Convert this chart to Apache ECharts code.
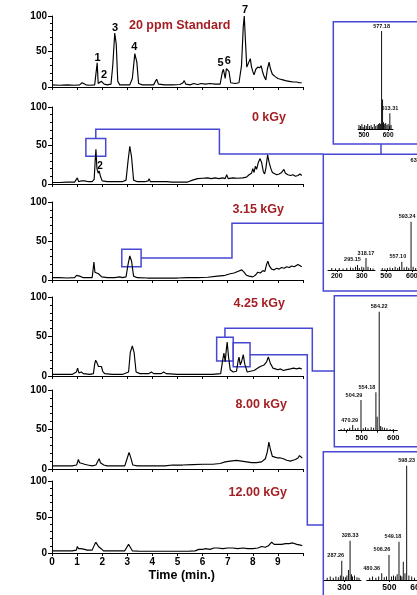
<!DOCTYPE html>
<html><head><meta charset="utf-8">
<script src="https://cdn.jsdelivr.net/npm/echarts@6/dist/echarts.min.js"></script>
<style>html,body{margin:0;padding:0;background:#fff}#c{width:417px;height:595px}</style>
</head><body><div id="c"></div>
<script>
// ---------- chromatogram data: [time (min), relative intensity] ----------
const std = [[0,3],[0.3,2.5],[0.6,3],[0.9,2.5],[1.1,3],[1.2,6],[1.27,7],[1.35,3],[1.5,2.5],[1.7,3],[1.76,4],[1.8,34],[1.84,5],[1.9,4],[1.97,8],[2.02,9],[2.08,4],[2.2,3],[2.35,4],[2.42,30],[2.5,76],[2.56,60],[2.62,8],[2.7,3],[2.9,3],[3.1,3],[3.2,12],[3.3,47],[3.38,35],[3.45,5],[3.6,3],[3.8,3],[4.05,3],[4.12,8],[4.17,11],[4.24,4],[4.5,3],[4.8,3],[5.1,3.5],[5.22,6],[5.27,9],[5.33,4],[5.5,3],[5.65,5],[5.72,5],[5.8,3.5],[5.95,5],[6.1,4],[6.3,5],[6.5,4],[6.7,4],[6.78,20],[6.83,25],[6.9,12],[6.95,26],[7.0,28],[7.05,22],[7.12,6],[7.3,5],[7.45,6],[7.55,30],[7.62,85],[7.66,100],[7.7,70],[7.76,28],[7.82,30],[7.9,40],[7.95,28],[8.0,22],[8.05,17],[8.12,25],[8.2,28],[8.28,27],[8.33,30],[8.4,20],[8.45,15],[8.52,10],[8.58,25],[8.65,35],[8.7,26],[8.78,18],[8.88,15],[9.0,12],[9.1,11],[9.2,10],[9.3,9],[9.45,8],[9.6,7],[9.75,7],[9.85,6],[9.95,6]];
const kGy0 = [[0,2],[0.3,2],[0.6,2.5],[0.9,2.5],[0.97,5],[1.01,8],[1.06,3],[1.15,4],[1.3,4],[1.45,3],[1.6,3],[1.68,6],[1.72,30],[1.75,45],[1.79,20],[1.84,14],[1.88,17],[1.93,10],[2.0,4],[2.2,3],[2.5,3],[2.8,3],[2.95,5],[3.03,30],[3.1,49],[3.17,35],[3.25,5],[3.4,3],[3.7,3],[3.83,4],[3.87,7],[3.92,3],[4.2,3],[4.45,3],[4.5,4.5],[4.55,3],[4.8,2.5],[5.1,2.5],[5.4,2.5],[5.6,5],[5.8,7],[6.0,7.5],[6.2,8],[6.35,7],[6.5,8],[6.65,7],[6.8,8],[6.9,7],[6.96,12],[7.02,7],[7.2,8],[7.4,7.5],[7.6,8],[7.75,9],[7.85,12],[7.95,14],[8.0,20],[8.05,15],[8.1,23],[8.15,19],[8.22,28],[8.29,33],[8.35,28],[8.42,16],[8.47,13],[8.52,20],[8.59,38],[8.65,28],[8.72,20],[8.78,15],[8.85,13],[8.95,12],[9.05,13],[9.15,15],[9.24,19],[9.3,14],[9.4,12],[9.5,11],[9.6,12],[9.7,10],[9.8,11],[9.88,13],[9.95,11]];
const kGy315 = [[0,3],[0.3,3],[0.6,2.5],[0.9,3],[0.98,6],[1.03,7],[1.1,5],[1.17,6.5],[1.25,3],[1.45,3],[1.6,3],[1.64,14],[1.67,23],[1.71,10],[1.78,10],[1.85,8],[1.92,8],[1.98,4],[2.2,3],[2.5,3],[2.7,4],[2.8,3],[2.95,4],[3.03,20],[3.1,31],[3.17,24],[3.25,5],[3.4,3],[3.8,2.5],[4.2,2.5],[4.6,2.5],[5.0,2.5],[5.4,3],[5.8,3],[6.2,3.5],[6.6,5],[6.9,6],[7.1,8],[7.25,9],[7.4,11],[7.56,13],[7.65,10],[7.75,6],[7.85,5],[8.0,4],[8.1,6],[8.2,10],[8.3,9],[8.4,12],[8.48,11],[8.55,20],[8.6,24],[8.66,18],[8.75,14],[8.85,13],[8.95,15],[9.05,14],[9.15,16],[9.25,15],[9.35,17],[9.45,16],[9.55,18],[9.65,17],[9.72,19],[9.8,20],[9.87,18],[9.95,17]];
const kGy425 = [[0,2],[0.4,2],[0.8,2],[0.97,5],[1.02,10],[1.07,4],[1.17,5],[1.25,3],[1.5,2],[1.65,3],[1.7,15],[1.74,20],[1.8,16],[1.85,12],[1.9,10],[1.97,12],[2.02,6],[2.1,3],[2.4,2],[2.8,2],[3.05,5],[3.12,30],[3.2,38],[3.27,30],[3.35,5],[3.5,3],[3.85,3],[3.96,5],[4.05,3],[4.35,3],[4.45,5],[4.55,3],[5.0,2],[5.5,2],[6.0,2],[6.4,2],[6.72,3],[6.8,20],[6.85,29],[6.9,18],[6.95,35],[6.98,43],[7.03,25],[7.1,8],[7.22,5],[7.35,6],[7.42,20],[7.45,24],[7.5,14],[7.55,18],[7.62,27],[7.68,15],[7.78,5],[7.9,6],[8.05,7],[8.2,10],[8.3,12],[8.45,14],[8.55,18],[8.62,24],[8.7,16],[8.8,10],[8.9,9],[9.0,8],[9.1,9],[9.22,7],[9.35,8],[9.5,9],[9.62,10],[9.75,9],[9.85,10],[9.95,9]];
const kGy800 = [[0,4],[0.4,4],[0.8,4],[0.98,5],[1.05,12],[1.1,8],[1.2,7],[1.3,6],[1.35,8],[1.42,5],[1.6,4],[1.75,5],[1.83,10],[1.88,13],[1.93,8],[2.0,9],[2.06,5],[2.2,4],[2.6,4],[2.9,4],[2.98,12],[3.07,21],[3.14,14],[3.22,5],[3.4,4],[4.0,4],[4.5,4],[4.8,5],[5.2,5],[5.6,5.5],[6.0,6],[6.4,6],[6.7,7],[6.9,9],[7.1,10],[7.35,11],[7.55,10],[7.75,9],[7.95,8],[8.15,8],[8.35,9],[8.5,13],[8.58,22],[8.64,34],[8.7,25],[8.78,16],[8.88,15],[9.0,14],[9.1,14],[9.22,13],[9.35,11],[9.5,10],[9.6,11],[9.7,12],[9.8,14],[9.86,17],[9.92,15],[9.97,14]];
const kGy1200 = [[0,3],[0.4,3],[0.8,3],[0.97,4],[1.01,9],[1.06,6],[1.15,6],[1.3,5],[1.4,4],[1.6,4],[1.7,12],[1.75,15],[1.8,12],[1.85,9],[1.9,11],[1.96,6],[2.05,3],[2.5,3],[2.9,3],[2.98,8],[3.05,12],[3.12,8],[3.2,3],[3.5,2.5],[4.0,2.5],[4.5,2.5],[5.0,2.5],[5.4,2.5],[5.7,3],[5.85,5],[6.0,5],[6.1,6],[6.3,5],[6.45,7],[6.6,7],[6.8,6],[7.0,7],[7.2,7],[7.4,6],[7.6,7],[7.8,6],[8.0,6],[8.2,7],[8.35,9],[8.5,8],[8.62,10],[8.75,15],[8.85,12],[9.0,12],[9.15,12],[9.3,13],[9.45,13],[9.6,14],[9.75,12],[9.9,11],[9.97,10]];

const panelTitles = ['20 ppm Standard','0 kGy','3.15 kGy','4.25 kGy','8.00 kGy','12.00 kGy'];
const timeTicks = ['0','1','2','3','4','5','6','7','8','9'];
const yTicks = [0,50,100];

// peak numbers: [label, time, intensity]
const stdPeaks = [['1',1.82,40.4],['2',2.07,16.9],['3',2.51,82.7],['4',3.28,55.9],['5',6.72,33.4],['6',7.0,37],['7',7.69,100]];
const kGy0Peaks = [['2',1.91,22.5]];

// ---------- mass spectra insets: m/z, intensity, label ----------
const ms1Mz = [573,577,607], ms1Int = [100,30,16], ms1Lab = ['577.18','','613.31'];
const ms1NoiseMz = [480,486,492,497,503,510,516,523,530,536,543,549,555,560,565,569,581,586,590,595,600,606,612];
const ms1NoiseInt = [4,3,5,2,4,3,5,3,4,2,5,3,4,5,6,5,7,5,6,4,5,3,4];
const ms2aMz = [283,317], ms2aInt = [4.8,11.4], ms2aLab = ['295.15','318.17'];
const ms2aNoiseMz = [180,195,210,225,240,255,265,275,290,300,308,325,335,345];
const ms2aNoiseInt = [2,1.5,2,1.5,2,2.5,2,3,2,3,2.5,3,2,1.5];
const ms2bMz = [561,597,628], ms2bInt = [7.9,46,100], ms2bLab = ['557.10','593.24','632.25'];
const ms2bNoiseMz = [485,495,505,515,525,535,545,552,570,580,588,605,615];
const ms2bNoiseInt = [2,1.5,2,2.5,2,3,2,3,2.5,3,2,3,2];
const ms3Mz = [471.5,497.8,545,549,555.4], ms3Int = [4.8,25.8,32.3,11.8,100], ms3Lab = ['470.29','504.29','554.18','','584.22'];
const ms3NoiseMz = [435,445,455,462,480,488,505,512,520,530,538,560,565,572,580,590,600];
const ms3NoiseInt = [1.5,2,1.5,2.5,2,2.5,2,3,2,3,2.5,4,3,2.5,2,1.5,1.5];
const ms4aMz = [287,328,320,335], ms4aInt = [16.9,34.4,8.7,5], ms4aLab = ['287.26','328.33','',''];
const ms4aNoiseMz = [215,230,245,258,270,280,295,305,312,340,350,362,372];
const ms4aNoiseInt = [2,3,2,3,2.5,4,3,2.5,4,3,4,2.5,2];
const ms4bMz = [472.9,498.9,534.6,550,562], ms4bInt = [5.9,21.9,33.5,16,100], ms4bLab = ['480.36','506.26','549.18','','598.23'];
const ms4bNoiseMz = [430,440,452,462,482,490,508,515,522,528,540,545,556,570,580,590];
const ms4bNoiseInt = [2,3,2,3,2.5,3,3,4,3,5,4,3,6,4,3,2];

// ---------- layout ----------
const FONT = '"Liberation Sans", Arial, sans-serif';
const BLUE = '#4747d4';
const RED = '#a31f24';
const panelTop = [16,107,202,297,390,481];
const panelH = [71,77,78,79,79,72];
const titlePos = [[179.7,25.7,'center'],[286,117.7,'right'],[284,210,'right'],[285,303.3,'right'],[287,405,'right'],[287,492.3,'right']];
const chromData = [std,kGy0,kGy315,kGy425,kGy800,kGy1200];

const insets = [
  {g:{left:358,top:31,width:35,height:98}, min:476,max:620, ticks:[500,600], fs:6.5, mz:ms1Mz,it:ms1Int,lab:ms1Lab,off:[0,0,0], nmz:ms1NoiseMz,nit:ms1NoiseInt},
  {g:{left:328,top:165,width:47,height:105}, min:165,max:353, ticks:[200,300], fs:7, mz:ms2aMz,it:ms2aInt,lab:ms2aLab,off:[-5,0], nmz:ms2aNoiseMz,nit:ms2aNoiseInt},
  {g:{left:381,top:165,width:60,height:105}, min:480,max:713.5, ticks:[500,600,700], fs:7, mz:ms2bMz,it:ms2bInt,lab:ms2bLab,off:[-4,-4,0], nmz:ms2bNoiseMz,nit:ms2bNoiseInt},
  {g:{left:338.3,top:311.7,width:59,height:119}, min:426,max:612.7, ticks:[500,600], minor:[450,550], fs:7.5, mz:ms3Mz,it:ms3Int,lab:ms3Lab,off:[-3,-7,-9,0,0], nmz:ms3NoiseMz,nit:ms3NoiseInt},
  {g:{left:324.3,top:465.7,width:36.7,height:114.3}, min:200.7,max:382, ticks:[300], fs:8.5, mz:ms4aMz,it:ms4aInt,lab:ms4aLab,off:[-6,0,0,0], nmz:ms4aNoiseMz,nit:ms4aNoiseInt},
  {g:{left:366.7,top:465.7,width:80,height:114.3}, min:419.3,max:705, ticks:[500,600], fs:8.5, mz:ms4bMz,it:ms4bInt,lab:ms4bLab,off:[-10,-7,-6,0,0], nmz:ms4bNoiseMz,nit:ms4bNoiseInt}
];
const insetBoxes = [
  {x:333.3,y:21.7,h:122.3},
  {x:323.3,y:154.3,h:136.7},
  {x:334.3,y:295.7,h:151},
  {x:323.3,y:451.7,h:200}
];

const grid = [], xAxis = [], yAxis = [], series = [];
chromData.forEach((d,i) => {
  grid.push({left:52, top:panelTop[i], width:251, height:panelH[i], outerBoundsMode:'none', containLabel:false});
  const last = i === 5;
  xAxis.push({gridIndex:i, type:'value', min:0, max:10, interval:1,
    axisLine:{show:true, onZero:false, lineStyle:{color:'#000',width:1}},
    axisTick:{show:true, length:3, lineStyle:{color:'#000'}},
    axisLabel:{show:last, color:'#000', fontFamily:FONT, fontWeight:'bold', fontSize:10, margin:4,
      formatter: v => (v < timeTicks.length ? timeTicks[v] : '')},
    splitLine:{show:false}});
  yAxis.push({gridIndex:i, type:'value', min:yTicks[0], max:yTicks[2], interval:50,
    axisLine:{show:true, lineStyle:{color:'#000',width:1}},
    axisTick:{show:true, length:4, lineStyle:{color:'#000'}},
    minorTick:{show:true, splitNumber:5, length:2, lineStyle:{color:'#000'}},
    axisLabel:{color:'#000', fontFamily:FONT, fontWeight:'bold', fontSize:10, margin:5},
    splitLine:{show:false}});
  const s = {type:'line', xAxisIndex:i, yAxisIndex:i, data:d, showSymbol:false, symbol:'none',
    lineStyle:{color:'#000', width:1.15}, animation:false, silent:true};
  const pk = i === 0 ? stdPeaks : (i === 1 ? kGy0Peaks : null);
  if (pk) {
    s.markPoint = {symbol:'rect', symbolSize:1, itemStyle:{color:'rgba(0,0,0,0)'}, silent:true, animation:false,
      label:{show:true, position:'inside', color:'#000', fontFamily:FONT, fontWeight:'bold', fontSize: i===0?11:10,
        formatter: p => p.name},
      data: pk.map(p => ({name:p[0], coord:[p[1],p[2]], label: p[0]==='7' ? {offset:[0,-6]} : undefined}))};
  }
  series.push(s);
});

insets.forEach((ins,k) => {
  const gi = 6 + k;
  grid.push(Object.assign({outerBoundsMode:'none', containLabel:false}, ins.g));
  xAxis.push({gridIndex:gi, type:'value', min:ins.min, max:ins.max,
    axisLine:{show:true, onZero:false, lineStyle:{color:'#000',width:1}},
    axisTick:{show:true, length:2, customValues: ins.ticks.concat(ins.minor||[]), lineStyle:{color:'#000'}},
    axisLabel:{show:true, customValues: ins.ticks, color:'#000', fontFamily:FONT, fontWeight:'bold', fontSize:ins.fs, margin:3},
    splitLine:{show:false}});
  yAxis.push({gridIndex:gi, type:'value', min:0, max:100, show:false});
  series.push({type:'bar', xAxisIndex:gi, yAxisIndex:gi, barWidth:1, animation:false, silent:true,
    itemStyle:{color:'#111'},
    data: ins.nmz.map((m,j) => [m, ins.nit[j]])});
  series.push({type:'bar', xAxisIndex:gi, yAxisIndex:gi, barWidth:1, barGap:'-100%', animation:false, silent:true,
    itemStyle:{color:'#111'},
    data: ins.mz.map((m,j) => ({value:[m, ins.it[j]],
      label:{show: !!ins.lab[j], position:'top', distance:2, offset:[ins.off[j]||0,0], formatter: ins.lab[j],
        color:'#111', fontFamily:FONT, fontWeight:'bold', fontSize:5.5}}))});
});

const chart = echarts.init(document.getElementById('c'), null, {renderer:'canvas'});
chart.setOption({animation:false, backgroundColor:'#fff', grid, xAxis, yAxis, series});

// ---------- annotations ----------
const px = (i, t, v) => chart.convertToPixel({xAxisIndex:i, yAxisIndex:i}, [t, v]);
const graphic = [];
panelTitles.forEach((t,i) => {
  graphic.push({type:'text', silent:true, style:{text:t, x:titlePos[i][0], y:titlePos[i][1], align:titlePos[i][2], verticalAlign:'middle',
    font:'bold 12.5px ' + FONT, fill:RED}});
});
graphic.push({type:'text', silent:true, style:{text:'Time (min.)', x:181.7, y:576, align:'center', verticalAlign:'middle',
  font:'bold 12.5px ' + FONT, fill:'#000'}});

const lineStyle = {stroke:BLUE, lineWidth:1.5, fill:null};
function box(i, t0, t1, v0, v1) {
  const a = px(i, t0, v1), b = px(i, t1, v0);
  graphic.push({type:'rect', silent:true, shape:{x:a[0], y:a[1], width:b[0]-a[0], height:b[1]-a[1]}, style:Object.assign({}, lineStyle)});
  return {l:a[0], t:a[1], r:b[0], b:b[1]};
}
function poly(pts) {
  graphic.push({type:'polyline', silent:true, shape:{points:pts}, style:Object.assign({}, lineStyle)});
}
insetBoxes.forEach(b => graphic.push({type:'rect', silent:true, shape:{x:b.x, y:b.y, width:200, height:b.h}, style:Object.assign({}, lineStyle)}));

const b2 = box(1, 1.35, 2.14, 36, 59);
{
  const cx = (b2.l + b2.r)/2, up = px(1, 0, 71)[1], xr = px(1, 6.67, 0)[0], dn = px(1, 0, 39)[1];
  poly([[cx, b2.t], [cx, up], [xr, up], [xr, dn], [insetBoxes[1].x, dn]]);
}
const b3 = box(2, 2.78, 3.55, 17, 39.4);
{
  const my = (b3.t + b3.b)/2, xr = px(2, 7.17, 0)[0], up = px(2, 0, 72.7)[1];
  poly([[b3.r, my], [xr, my], [xr, up], [insetBoxes[1].x, up]]);
}
const b4a = box(3, 6.56, 7.22, 19, 49);
{
  const cx = (b4a.l + b4a.r)/2, up = px(3, 0, 60.4)[1];
  poly([[cx, b4a.t], [cx, up], [312.3, up], [312.3, 371], [insetBoxes[2].x, 371]]);
}
const b4b = box(3, 7.22, 7.89, 11.8, 42);
{
  const my = (b4b.t + b4b.b)/2;
  poly([[b4b.r, my], [307.3, my], [307.3, 525], [insetBoxes[3].x, 525]]);
}
poly([[381, insetBoxes[0].y + insetBoxes[0].h], [381, insetBoxes[1].y]]);

chart.setOption({graphic});
</script></body></html>
